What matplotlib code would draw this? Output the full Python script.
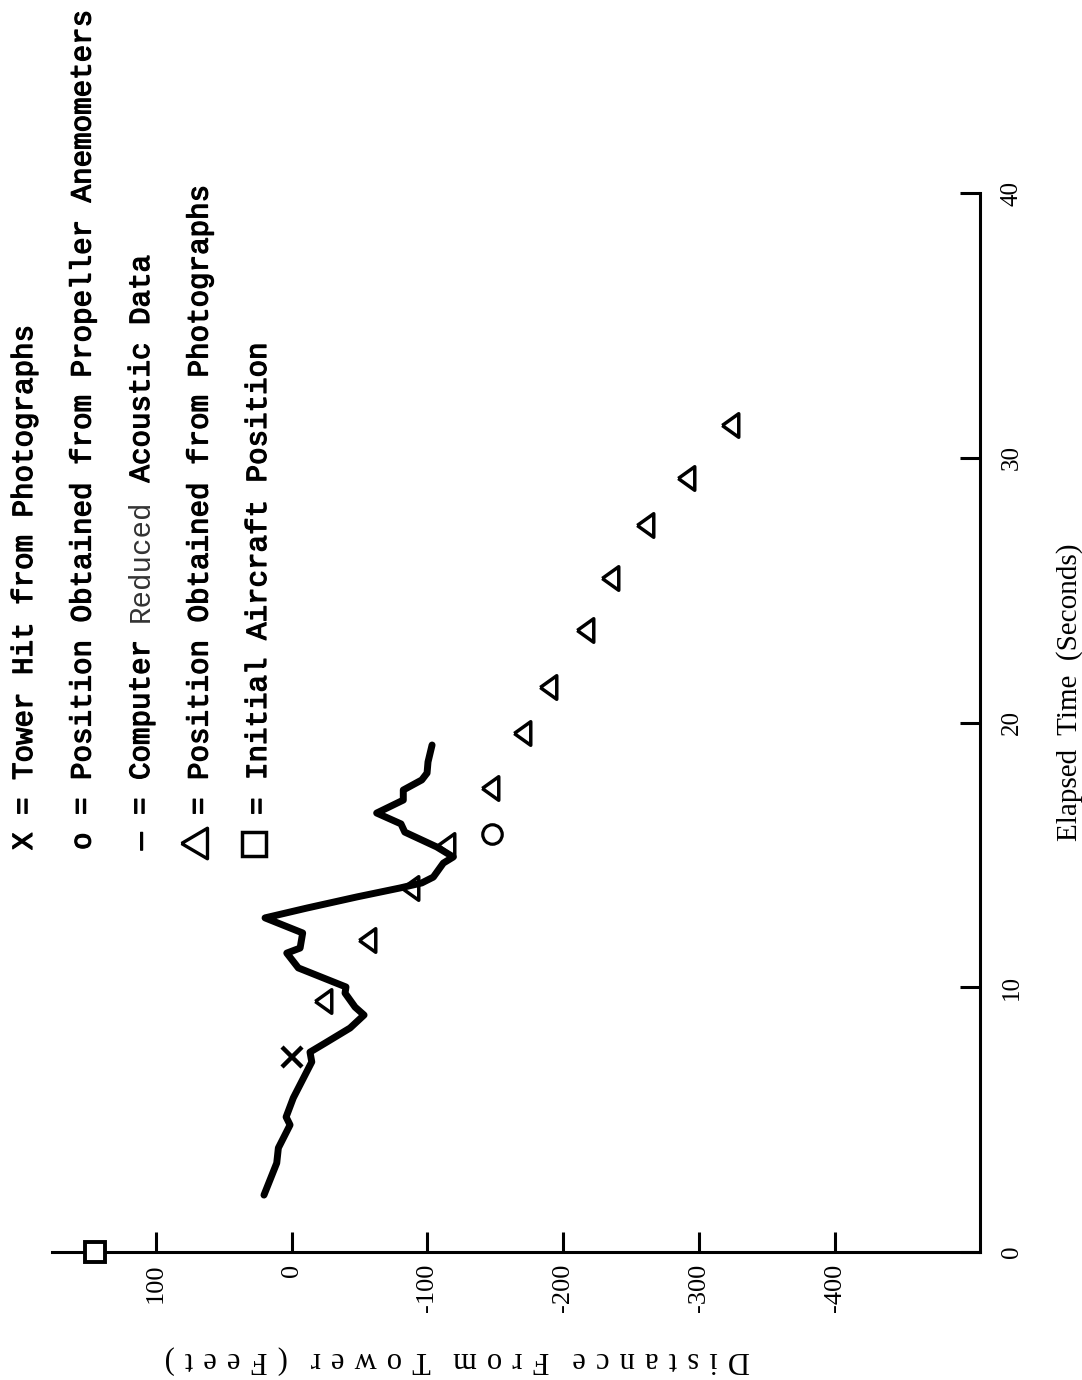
import matplotlib
matplotlib.use("Agg")
import matplotlib.pyplot as plt
import matplotlib.patheffects as pe
from matplotlib.lines import Line2D

W, H = 1082, 1380

# computer reduced acoustic track: elapsed time (s) vs distance from tower (ft)
acoustic_time = [2.15, 3.36, 3.93, 4.80, 5.10, 5.82, 7.18, 7.55, 7.89, 8.46, 8.95, 9.25,
                 9.78, 10.01, 10.73, 11.29, 11.48, 12.05, 12.62, 12.99, 13.41, 13.75, 13.94, 14.16,
                 14.69, 14.92, 15.30, 15.86, 16.17, 16.58, 17.07, 17.45, 17.83, 18.09, 18.51, 19.15]
acoustic_dist = [20.3, 10.9, 9.7, 1.1, 4.0, -1.3, -14.9, -13.6, -24.7, -43.1, -53.4, -46.8,
                 -39.4, -40.1, -5.0, 3.5, -6.3, -8.2, 19.5, -11.2, -48.0, -79.9, -95.9, -104.4,
                 -111.8, -119.1, -106.9, -83.4, -80.6, -62.7, -82.3, -82.3, -95.9, -99.8, -100.5, -103.5]

# positions from photographs
photo_time = [9.49, 11.78, 13.75, 15.37, 17.53, 19.60, 21.34, 23.49, 25.46, 27.46, 29.24, 31.24]
photo_dist = [-23.0, -55.4, -87.3, -113.5, -146.2, -169.7, -188.9, -216.1, -234.5, -260.3, -290.5, -322.9]

# propeller anemometer fix, tower hit, initial aircraft position
anemometer_time = [15.79]
anemometer_dist = [-147.6]
tower_hit_time = [7.38]
tower_hit_dist = [0.0]
initial_time = [0.0]
initial_dist = [145.0]

dist_ticks = [100, 0, -100, -200, -300, -400]
dist_labels = ["100", "0", "-100", "-200", "-300", "-400"]
time_ticks = [0, 10, 20, 30, 40]
time_labels = ["0", "10", "20", "30", "40"]

SERIF = ["Liberation Serif", "DejaVu Serif"]
MONO = ["Liberation Mono", "DejaVu Sans Mono"]

fig = plt.figure(figsize=(W / 100, H / 100), dpi=100)
fig.patch.set_facecolor("white")

# page is turned sideways: distance runs left->right, time runs bottom->top
left, right, top, bottom = 52, 980, 193, 1252
ax = fig.add_axes([left / W, 1 - bottom / H, (right - left) / W, (bottom - top) / H])
ax.set_xlim(176.4, -507.0)
ax.set_ylim(0, 40)

tri_left = [(-0.7, 0.0), (0.7, 1.0), (0.7, -1.0), (-0.7, 0.0)]

ax.plot(acoustic_dist, acoustic_time, color="black", lw=5,
        solid_joinstyle="round", solid_capstyle="round", zorder=3)
ax.plot(photo_dist, photo_time, ls="none", marker=tri_left, ms=17,
        mfc="none", mec="black", mew=2.5, zorder=4)
ax.plot(anemometer_dist, anemometer_time, ls="none", marker="o", ms=14,
        mfc="none", mec="black", mew=2.3, zorder=4)
ax.plot(tower_hit_dist, tower_hit_time, ls="none", marker="x", ms=15,
        mec="black", mew=3.2, zorder=4)
ax.plot(initial_dist, initial_time, ls="none", marker="s", ms=15,
        mfc="white", mec="black", mew=2.8, clip_on=False, zorder=5)

for side in ("top", "left"):
    ax.spines[side].set_visible(False)
for side in ("bottom", "right"):
    ax.spines[side].set_linewidth(2.2)

ax.set_xticks(dist_ticks)
ax.set_xticklabels(dist_labels, rotation=90, family=SERIF, fontsize=19)
ax.tick_params(axis="x", direction="in", length=14.4, width=2.2, pad=8.5)

ax.yaxis.tick_right()
ax.set_yticks(time_ticks)
ax.set_yticklabels(time_labels, rotation=90, family=SERIF, fontsize=18, va="center")
ax.tick_params(axis="y", direction="in", length=14.4, width=2.2, pad=15)


def ftext(x, y, s, **kw):
    return fig.text(x / W, 1 - y / H, s, **kw)


ftext(1070, 692, "Elapsed  Time  (Seconds)", rotation=90, ha="center", va="center",
      family=SERIF, fontsize=21)

# letter-spaced label under the distance axis
gap = "\u2004"
words = ["Distance", "From", "Tower", "(Feet)"]
spaced = "   ".join(gap.join(w) for w in words)
ftext(457, 1360, spaced, rotation=180, ha="center", va="center", family=SERIF, fontsize=22)

# key, typed sideways down the left margin
adv = 17.5
y0 = 850
base = [32, 90.5, 149, 207.5, 266]
ink = [pe.withStroke(linewidth=0.9, foreground="black")]
key = dict(rotation=90, rotation_mode="anchor", ha="left", va="baseline",
           family=MONO, fontsize=21, path_effects=ink)

ftext(base[0], y0, "X = Tower Hit from Photographs", **key)
ftext(base[1], y0, "o = Position Obtained from Propeller Anemometers", **key)
ftext(base[2], y0, "\u2014 = Computer", **key)
ftext(base[2], y0 - 13 * adv, "Reduced", **dict(key, path_effects=[], color="#333333"))
ftext(base[2], y0 - 21 * adv, "Acoustic Data", **key)
ftext(base[3], y0 - 2 * adv, "= Position Obtained from Photographs", **key)
ftext(base[4], y0 - 2 * adv, "= Initial Aircraft Position", **key)

tri_key = [(-0.85, 0.0), (0.85, 1.0), (0.85, -1.0), (-0.85, 0.0)]
fig.add_artist(Line2D([194 / W], [1 - 843 / H], transform=fig.transFigure, marker=tri_key,
                      ms=22, mfc="none", mec="black", mew=2.4, ls="none"))
fig.add_artist(Line2D([253.5 / W], [1 - 844 / H], transform=fig.transFigure, marker="s",
                      ms=17, mfc="none", mec="black", mew=2.5, ls="none"))

fig.savefig("out.png", dpi=100, facecolor="white")
